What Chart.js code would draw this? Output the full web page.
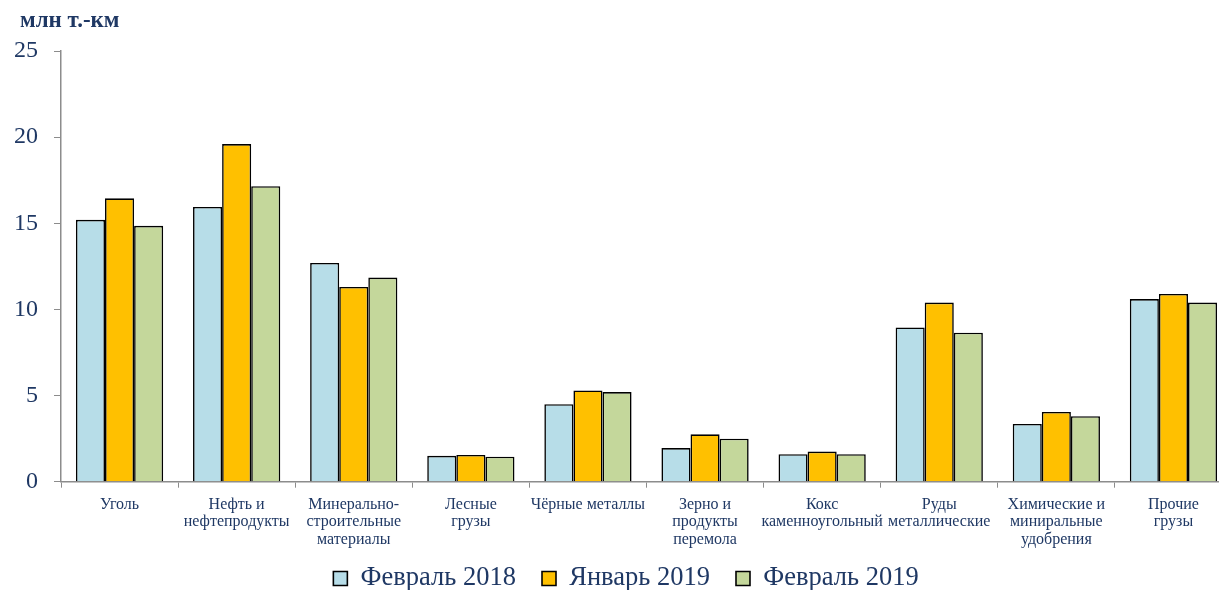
<!DOCTYPE html>
<html lang="ru">
<head>
<meta charset="utf-8">
<script src="https://cdn.jsdelivr.net/npm/chart.js@4/dist/chart.umd.min.js"></script>
<style>
  html, body { margin: 0; padding: 0; background: #fff; overflow: hidden; }
  #wrap { position: relative; margin-left: -14px; width: 1246px; height: 619px; }
</style>
</head>
<body>
<div id="wrap"><canvas id="freightChart"></canvas></div>
<script>
const categories = [
  'Уголь',
  ['Нефть и', 'нефтепродукты'],
  ['Минерально-', 'строительные', 'материалы'],
  ['Лесные', 'грузы'],
  'Чёрные металлы',
  ['Зерно и', 'продукты', 'перемола'],
  ['Кокс', 'каменноугольный'],
  ['Руды', 'металлические'],
  ['Химические и', 'миниральные', 'удобрения'],
  ['Прочие', 'грузы']
];
const seriesNames = ['Февраль 2018', 'Январь 2019', 'Февраль 2019'];
const feb2018 = [15.2, 15.95, 12.7, 1.5, 4.5, 1.95, 1.6, 8.95, 3.35, 10.6];
const jan2019 = [16.45, 19.6, 11.3, 1.55, 5.3, 2.75, 1.75, 10.4, 4.05, 10.9];
const feb2019 = [14.85, 17.15, 11.85, 1.45, 5.2, 2.5, 1.6, 8.65, 3.8, 10.4];
const unitLabel = 'млн т.-км';

const navy = '#1F3864';
const serif = "'Liberation Serif', 'Times New Roman', serif";

// unit caption above the y axis; legend pulled up under the labels and nudged right
const unitCaption = {
  id: 'unitCaption',
  afterLayout(chart) {
    const lg = chart.legend;
    const dy = (chart.chartArea.bottom + 57.5) - lg.top;
    lg.top += dy;
    lg.bottom += dy;
    lg.left += 11;
    lg.right += 11;
  },
  afterDraw(chart) {
    const c = chart.ctx;
    c.save();
    c.font = 'bold 23px ' + serif;
    c.fillStyle = navy;
    c.textBaseline = 'middle';
    c.fillText(unitLabel, chart.chartArea.left - 41, 21);
    c.restore();
  }
};

window.addEventListener('DOMContentLoaded', () => {
  const ctx = document.getElementById('freightChart').getContext('2d');
  const fills = ['#B7DDE8', '#FFC000', '#C4D79B'];
  const values = [feb2018, jan2019, feb2019];

  new Chart(ctx, {
    type: 'bar',
    data: {
      labels: categories,
      datasets: seriesNames.map((name, i) => ({
        label: name,
        data: values[i],
        backgroundColor: fills[i],
        borderColor: '#000',
        borderWidth: 1.6,
        barPercentage: 1,
        categoryPercentage: 0.745
      }))
    },
    options: {
      responsive: true,
      maintainAspectRatio: false,
      animation: false,
      layout: { padding: { top: 51, left: 12, right: 0, bottom: 0 } },
      plugins: {
        tooltip: { enabled: false },
        legend: {
          position: 'bottom',
          labels: {
            color: navy,
            font: { family: serif, size: 26.5 },
            boxWidth: 14,
            boxHeight: 14,
            padding: 26
          }
        }
      },
      scales: {
        x: {
          offset: true,
          grid: {
            offset: true,
            drawOnChartArea: false,
            color: '#8c8c8c',
            tickLength: 6
          },
          border: { color: '#8c8c8c', width: 1.5 },
          ticks: {
            color: navy,
            font: { family: serif, size: 16, lineHeight: 1.1 },
            maxRotation: 0,
            autoSkip: false,
            padding: 8
          }
        },
        y: {
          min: 0,
          max: 25,
          grid: {
            drawOnChartArea: false,
            color: '#8c8c8c',
            tickLength: 7
          },
          border: { color: '#8c8c8c', width: 1.5 },
          ticks: {
            stepSize: 5,
            color: navy,
            font: { family: serif, size: 24 },
            padding: 16
          }
        }
      }
    },
    plugins: [unitCaption]
  });
});
</script>
</body>
</html>
